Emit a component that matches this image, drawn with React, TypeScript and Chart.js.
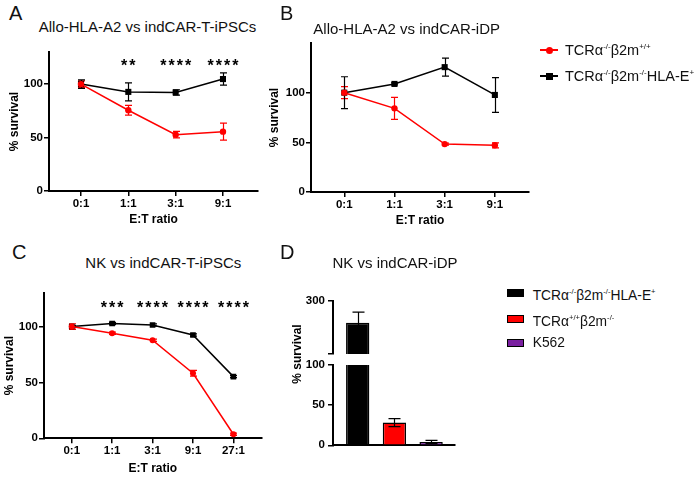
import React, { useEffect, useRef } from 'react';
import { Chart, registerables } from 'chart.js';

Chart.register(...registerables);

// ---------------- data ----------------
const ratiosAB = ['0:1', '1:1', '3:1', '9:1'];
const ratiosC = ['0:1', '1:1', '3:1', '9:1', '27:1'];
const yTicksLine = [0, 50, 100];

const aRed = [100, 75.5, 52.7, 55.5];
const aRedSD = [3, 4.5, 3, 8];
const aBlack = [100, 92.7, 92.2, 104.7];
const aBlackSD = [4, 8.5, 2.5, 5.7];
const aSig = ['', '**', '****', '****'];

const bRed = [100, 84.2, 48.2, 47];
const bRedSD = [6, 11, 1, 2.5];
const bBlack = [100, 108.8, 125.7, 97.7];
const bBlackSD = [16, 1, 9, 17.5];

const cRed = [100, 94, 87.7, 58.2, 3.6];
const cRedSD = [2.5, 1, 1, 2.5, 1];
const cBlack = [100, 102.7, 101.4, 92.4, 55.2];
const cBlackSD = [1, 1, 1, 1, 1];
const cSig = ['', '***', '****', '****', '****'];
const SIG_LEVEL = 116;

const dValues = [259, 28.3, 4.1];
const dSD = [20, 5, 2.1];
const dLowerTicks = [0, 50, 100];
const dLowerTickLabels = ['0', '50', '100'];
const dUpperTicks = [200, 300];
const dUpperTickLabels = ['', '300'];

const legendLine = ['TCRα^{-/-}β2m^{+/+}', 'TCRα^{-/-}β2m^{-/-}HLA-E^{+}'];
const legendBar = ['TCRα^{-/-}β2m^{-/-}HLA-E^{+}', 'TCRα^{+/+}β2m^{-/-}', 'K562'];

// ---------------- styles ----------------
const FONT = '"Liberation Sans", Arial, Helvetica, sans-serif';
const RED = '#ff0000';
const BLACK = '#000000';
const PURPLE = '#7a1fa0';
const barColors = [BLACK, RED, PURPLE];
const TICK_FONT = { family: FONT, size: 11.5, weight: 'bold' as const };
const TITLE_FONT = { family: FONT, size: 12, weight: 'bold' as const };

const pts = (vals: number[]) => vals.map((y, x) => ({ x, y }));

function drawErrors(chart: any, opts: any) {
  const { ctx, chartArea: a } = chart;
  ctx.save();
  if (opts.clip) {
    ctx.beginPath();
    ctx.rect(a.left, a.top, a.right - a.left, a.bottom - a.top);
    ctx.clip();
  }
  chart.data.datasets.forEach((ds: any, di: number) => {
    const sd = ds.sd;
    if (!sd) return;
    const meta = chart.getDatasetMeta(di);
    const ys = chart.scales[meta.yAxisID];
    ctx.strokeStyle = ds.errColor || ds.borderColor;
    ctx.lineWidth = opts.lineWidth || 1.2;
    const cap = opts.cap || 7;
    meta.data.forEach((el: any, i: number) => {
      const v = meta._parsed[i].y;
      const e = sd[i];
      if (!e) return;
      const x = Math.round(el.x) + 0.5;
      const t = ys.getPixelForValue(v + e);
      const b = ys.getPixelForValue(v - e);
      ctx.beginPath();
      ctx.moveTo(x, t);
      ctx.lineTo(x, b);
      ctx.moveTo(x - cap / 2, t);
      ctx.lineTo(x + cap / 2, t);
      ctx.moveTo(x - cap / 2, b);
      ctx.lineTo(x + cap / 2, b);
      ctx.stroke();
    });
  });
  ctx.restore();
}

const errorBarPlugin = {
  id: 'errorBars',
  beforeDatasetsDraw(chart: any, _a: any, opts: any) {
    if (!opts.onTop) drawErrors(chart, opts);
  },
  afterDatasetsDraw(chart: any, _a: any, opts: any) {
    if (opts.onTop) drawErrors(chart, opts);
  },
};

const sigPlugin = {
  id: 'sig',
  afterDatasetsDraw(chart: any, _a: any, opts: any) {
    if (!opts || !opts.labels) return;
    const { ctx } = chart;
    const xs = chart.scales.x;
    const ys = chart.scales.y;
    ctx.save();
    ctx.fillStyle = '#000';
    ctx.font = `bold ${opts.size}px ${FONT}`;
    ctx.textAlign = 'center';
    ctx.textBaseline = 'middle';
    (ctx as any).letterSpacing = `${opts.spacing}px`;
    opts.labels.forEach((s: string, i: number) => {
      if (s) ctx.fillText(s, xs.getPixelForValue(i) + opts.spacing / 2, ys.getPixelForValue(opts.level));
    });
    ctx.restore();
  },
};

function yAxis(p: any) {
  return {
    type: 'linear',
    min: p.min,
    max: p.max,
    afterBuildTicks: (s: any) => {
      s.ticks = p.ticks.map((v: number) => ({ value: v }));
    },
    afterFit: (s: any) => {
      s.width = p.width;
    },
    border: { color: '#000', width: 2 },
    grid: { drawOnChartArea: false, drawTicks: true, tickLength: 5, color: '#000', lineWidth: 1.5 },
    ticks: {
      color: '#000',
      font: TICK_FONT,
      padding: p.tickPad ?? 1,
      callback: (_v: any, i: number) => (p.labels ? p.labels[i] : String(p.ticks[i])),
    },
    title: p.title
      ? { display: true, text: p.title, color: '#000', font: TITLE_FONT, padding: { top: p.titlePad, bottom: 0 } }
      : { display: false },
  };
}

function xAxis(p: any) {
  return {
    type: 'linear',
    display: p.display ?? true,
    offset: false,
    min: p.min,
    max: p.max,
    afterBuildTicks: (s: any) => {
      s.ticks = p.labels.map((_l: string, i: number) => ({ value: i }));
    },
    afterFit: (s: any) => {
      s.height = p.height;
    },
    border: { color: '#000', width: 2 },
    grid: { display: p.showTicks, offset: false, drawOnChartArea: false, drawTicks: true, tickLength: 5, color: '#000', lineWidth: 1.5 },
    ticks: {
      display: p.showTicks,
      autoSkip: false,
      maxRotation: 0,
      color: '#000',
      font: TICK_FONT,
      padding: 1,
      callback: (_v: any, i: number) => p.labels[i],
    },
    title: p.title
      ? { display: true, text: p.title, color: '#000', font: TITLE_FONT, padding: { top: 0, bottom: p.titlePad } }
      : { display: false },
  };
}

function lineChart(canvas: HTMLCanvasElement, p: any) {
  return new Chart(canvas, {
    type: 'line',
    data: {
      datasets: p.series.map((s: any) => ({
        data: pts(s.values),
        sd: s.sd,
        borderColor: s.color,
        backgroundColor: s.color,
        pointBackgroundColor: s.color,
        pointBorderColor: s.color,
        pointStyle: s.style,
        pointRadius: s.radius,
        pointBorderWidth: 0,
        borderWidth: 1.5,
        tension: 0,
        fill: false,
      })),
    },
    options: {
      responsive: false,
      animation: false,
      devicePixelRatio: 1,
      events: [],
      layout: { padding: p.padding },
      plugins: {
        legend: { display: false },
        tooltip: { enabled: false },
        errorBars: { cap: 7, lineWidth: 1.2 },
        sig: p.sig ? { labels: p.sig, level: SIG_LEVEL, size: 16, spacing: 2 } : {},
      } as any,
      scales: {
        x: xAxis({ min: p.xMin, max: p.xMax, labels: p.labels, height: p.xHeight, showTicks: true, title: 'E:T ratio', titlePad: p.xTitlePad }),
        y: yAxis({ min: 0, max: p.yMax, ticks: yTicksLine, width: p.yWidth, title: '% survival', titlePad: p.yTitlePad }),
      } as any,
    },
    plugins: [errorBarPlugin, sigPlugin],
  } as any);
}

function barChart(canvas: HTMLCanvasElement, p: any) {
  return new Chart(canvas, {
    type: 'bar',
    data: {
      datasets: [
        {
          data: pts(dValues),
          sd: dSD,
          errColor: '#000',
          backgroundColor: barColors,
          borderColor: '#000',
          borderWidth: 1.5,
          clip: 0,
          barPercentage: 0.635,
          categoryPercentage: 1,
        },
      ],
    },
    options: {
      responsive: false,
      animation: false,
      devicePixelRatio: 1,
      events: [],
      layout: { padding: p.padding },
      plugins: {
        legend: { display: false },
        tooltip: { enabled: false },
        errorBars: { cap: 12, lineWidth: 1.2, onTop: true, clip: true },
      } as any,
      scales: {
        x: xAxis({ display: p.showX, min: -0.673, max: 2.651, labels: ['', '', ''], height: p.xHeight, showTicks: false }),
        y: yAxis({ min: p.yMin, max: p.yMax, ticks: p.ticks, labels: p.tickLabels, width: 48, tickPad: 3 }),
      } as any,
    },
    plugins: [errorBarPlugin],
  } as any);
}

function ChartBox({ x, y, w, h, make }: any) {
  const ref = useRef<HTMLCanvasElement>(null);
  useEffect(() => {
    const c = make(ref.current!);
    return () => c.destroy();
  }, []);
  return <canvas ref={ref} width={w} height={h} style={{ position: 'absolute', left: x, top: y, width: w, height: h }} />;
}

function Rich({ text }: { text: string }) {
  const parts = text.split(/(\^\{[^}]*\})/).filter(Boolean);
  return (
    <>
      {parts.map((t, i) =>
        t.startsWith('^{') ? (
          <span key={i} style={{ fontSize: '0.55em', position: 'relative', top: '-0.75em' }}>
            {t.slice(2, -1)}
          </span>
        ) : (
          <span key={i}>{t}</span>
        )
      )}
    </>
  );
}

function Txt({ x, y, size, children, center, bold, color }: any) {
  return (
    <div
      style={{
        position: 'absolute',
        left: x,
        top: y - size * 0.4885,
        fontSize: size,
        lineHeight: `${size}px`,
        fontWeight: bold ? 'bold' : 'normal',
        color: color || '#111',
        whiteSpace: 'nowrap',
        transform: center ? 'translateX(-50%)' : undefined,
      }}
    >
      {children}
    </div>
  );
}

function LineKey({ x, y, color, square }: any) {
  return (
    <>
      <div style={{ position: 'absolute', left: x, top: y - 1, width: 18, height: 2, background: color }} />
      <div
        style={{
          position: 'absolute',
          left: x + 9 - 3.5,
          top: y - 3.5,
          width: 7,
          height: 7,
          background: color,
          borderRadius: square ? 0 : '50%',
        }}
      />
    </>
  );
}

function BarKey({ x, y, color }: any) {
  return (
    <div
      style={{
        position: 'absolute',
        left: x,
        top: y - 4,
        width: 17,
        height: 8,
        boxSizing: 'border-box',
        background: color,
        border: '1.5px solid #000',
      }}
    />
  );
}

export default function App() {
  return (
    <div style={{ position: 'fixed', left: 0, top: 0, width: 698, height: 477, background: '#fff', overflow: 'hidden', fontFamily: FONT }}>
      {/* Panel A */}
      <ChartBox
        x={0}
        y={40}
        w={275}
        h={189}
        make={(c: HTMLCanvasElement) =>
          lineChart(c, {
            labels: ratiosAB,
            series: [
              { values: aRed, sd: aRedSD, color: RED, style: 'circle', radius: 3.2 },
              { values: aBlack, sd: aBlackSD, color: BLACK, style: 'rect', radius: 4.3 },
            ],
            sig: aSig,
            xMin: -0.676,
            xMax: 3.74,
            yMax: 130,
            padding: { top: 12, right: 17, left: 0, bottom: 0 },
            xHeight: 38,
            yWidth: 49,
            yTitlePad: 7,
            xTitlePad: 1.8,
          })
        }
      />
      {/* Panel B */}
      <ChartBox
        x={262}
        y={30}
        w={285}
        h={200}
        make={(c: HTMLCanvasElement) =>
          lineChart(c, {
            labels: ratiosAB,
            series: [
              { values: bRed, sd: bRedSD, color: RED, style: 'circle', radius: 3.2 },
              { values: bBlack, sd: bBlackSD, color: BLACK, style: 'rect', radius: 4.3 },
            ],
            xMin: -0.663,
            xMax: 3.68,
            yMax: 150,
            padding: { top: 13, right: 18, left: 0, bottom: 0 },
            xHeight: 38,
            yWidth: 49,
            yTitlePad: 5,
            xTitlePad: 1.8,
          })
        }
      />
      {/* Panel C */}
      <ChartBox
        x={0}
        y={280}
        w={275}
        h={197}
        make={(c: HTMLCanvasElement) =>
          lineChart(c, {
            labels: ratiosC,
            series: [
              { values: cRed, sd: cRedSD, color: RED, style: 'circle', radius: 3 },
              { values: cBlack, sd: cBlackSD, color: BLACK, style: 'rect', radius: 4 },
            ],
            sig: cSig,
            xMin: -0.686,
            xMax: 4.7,
            yMax: 130,
            padding: { top: 13, right: 13.3, left: 0, bottom: 0 },
            xHeight: 38.7,
            yWidth: 44,
            yTitlePad: 2,
            xTitlePad: 0.8,
          })
        }
      />
      {/* Panel D: lower segment then upper segment of the broken axis */}
      <ChartBox
        x={285}
        y={355}
        w={190}
        h={120}
        make={(c: HTMLCanvasElement) =>
          barChart(c, {
            showX: true,
            yMin: 0,
            yMax: 100,
            ticks: dLowerTicks,
            tickLabels: dLowerTickLabels,
            padding: { top: 10, right: 20, left: 0, bottom: 0 },
            xHeight: 29.7,
          })
        }
      />
      <ChartBox
        x={285}
        y={290}
        w={190}
        h={74}
        make={(c: HTMLCanvasElement) =>
          barChart(c, {
            showX: false,
            yMin: 200,
            yMax: 300,
            ticks: dUpperTicks,
            tickLabels: dUpperTickLabels,
            padding: { top: 11, right: 20, left: 0, bottom: 10 },
            xHeight: 0,
          })
        }
      />
      <div
        style={{
          position: 'absolute',
          left: 296.5,
          top: 354,
          transform: 'translate(-50%, -50%) rotate(-90deg)',
          fontSize: 12,
          fontWeight: 'bold',
          lineHeight: '14px',
          whiteSpace: 'nowrap',
          color: '#000',
        }}
      >
        % survival
      </div>

      {/* panel letters */}
      <Txt x={9} y={12.5} size={20}>A</Txt>
      <Txt x={280} y={12.5} size={20}>B</Txt>
      <Txt x={12} y={252} size={20}>C</Txt>
      <Txt x={280} y={252} size={20}>D</Txt>

      {/* panel titles */}
      <Txt x={147.5} y={26.2} size={15} center>Allo-HLA-A2 vs indCAR-T-iPSCs</Txt>
      <Txt x={406.7} y={28.3} size={15} center>Allo-HLA-A2 vs indCAR-iDP</Txt>
      <Txt x={163.3} y={262.8} size={15} center>NK vs indCAR-T-iPSCs</Txt>
      <Txt x={395} y={262.8} size={15} center>NK vs indCAR-iDP</Txt>

      {/* legend for line panels */}
      <LineKey x={540} y={50} color={RED} />
      <LineKey x={540} y={76} color={BLACK} square />
      <Txt x={565} y={50.5} size={14.5}><Rich text={legendLine[0]} /></Txt>
      <Txt x={565} y={76.5} size={14.5}><Rich text={legendLine[1]} /></Txt>

      {/* legend for bar panel */}
      <BarKey x={506.7} y={292.7} color={barColors[0]} />
      <BarKey x={506.7} y={319.3} color={barColors[1]} />
      <BarKey x={506.7} y={342.7} color={barColors[2]} />
      <Txt x={532.7} y={295.3} size={13.8}><Rich text={legendBar[0]} /></Txt>
      <Txt x={532.7} y={321.3} size={13.8}><Rich text={legendBar[1]} /></Txt>
      <Txt x={532.7} y={342.3} size={13.8}><Rich text={legendBar[2]} /></Txt>
    </div>
  );
}
